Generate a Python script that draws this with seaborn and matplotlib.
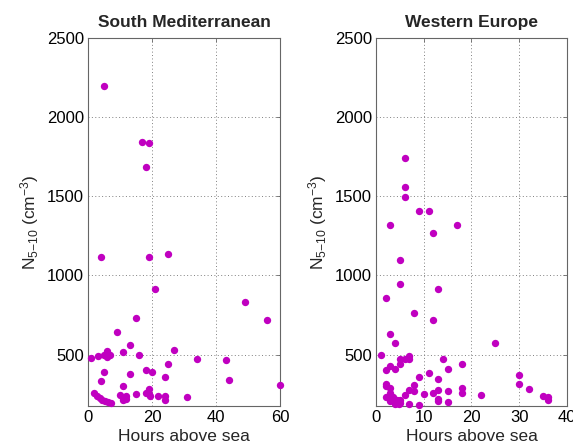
import numpy as np
import pandas as pd
import matplotlib
matplotlib.use("Agg")
import matplotlib.pyplot as plt
import seaborn as sns

# South Mediterranean: hours above sea vs N5-10
sm_hours = [5, 17, 19, 18,
            4, 19, 25, 21, 49, 56, 15, 9, 13, 11, 27, 6, 1, 3,
            5, 6, 7, 6, 16, 34, 43, 25, 5, 18, 20, 13, 24, 4, 44, 60,
            11, 19, 2, 2.7, 3.6, 4.4, 5.3, 6.3, 7.1, 10, 11, 12, 11, 11.8,
            15, 18, 19, 19.5, 22, 24, 24, 31]
sm_n = [2195, 1845, 1835, 1685,
        1115, 1115, 1135, 915, 835, 720, 730, 640, 560, 515, 530, 525, 480, 490,
        495, 505, 500, 485, 500, 475, 465, 440, 390, 400, 390, 380, 360, 330, 340, 305,
        300, 285, 255, 240, 225, 215, 208, 200, 192, 245, 225, 240, 210, 222,
        250, 255, 250, 240, 240, 240, 215, 235]

# Western Europe
we_hours = [6, 6, 6, 9, 11, 3, 17,
            12, 5, 5, 13, 2, 8, 12, 3, 4, 25, 1,
            5, 6, 7, 7, 14, 5, 3, 4, 2, 18, 15, 11, 30, 9, 13, 30,
            2, 2, 3, 8, 18, 18, 32, 7, 8, 13, 15, 12, 10, 22,
            35, 36, 36, 2, 3, 6, 3, 4, 4.5, 5, 5, 4, 4.8,
            13, 13, 15, 7, 9, 3.5]
we_n = [1745, 1560, 1495, 1405, 1410, 1320, 1320,
        1265, 1095, 945, 915, 855, 760, 720, 630, 575, 570, 495,
        475, 475, 490, 470, 475, 440, 430, 410, 405, 440, 410, 385, 370, 360, 345, 315,
        315, 300, 290, 305, 290, 260, 280, 275, 270, 275, 270, 255, 250, 245,
        240, 230, 210, 230, 260, 245, 205, 200, 210, 215, 195, 190, 190,
        220, 205, 200, 190, 180, 235]

sm = pd.DataFrame({"hours": sm_hours, "n": sm_n})
we = pd.DataFrame({"hours": we_hours, "n": we_n})

sns.set_style("white")
plt.rcParams["font.family"] = ["Liberation Sans", "DejaVu Sans"]
plt.rcParams["mathtext.fontset"] = "custom"
plt.rcParams["mathtext.rm"] = "Liberation Sans"
plt.rcParams["mathtext.it"] = "Liberation Sans:italic"

fig = plt.figure(figsize=(5.73, 4.45), dpi=100)
ax1 = fig.add_axes([0.1536, 0.0876, 0.3351, 0.827])
ax2 = fig.add_axes([0.6562, 0.0876, 0.3333, 0.827])

color = "#c000c0"
panels = [(ax1, sm, "South Mediterranean", 60, [0, 20, 40, 60]),
          (ax2, we, "Western Europe", 40, [0, 10, 20, 30, 40])]

for ax, df, title, xmax, xt in panels:
    sns.scatterplot(data=df, x="hours", y="n", ax=ax, color=color, s=28,
                    edgecolor=color, linewidth=0, zorder=3, clip_on=False)
    ax.set_xlim(0, xmax)
    ax.set_ylim(175, 2500)
    ax.set_xticks(xt)
    ax.set_yticks([500, 1000, 1500, 2000, 2500])
    ax.grid(True, linestyle=(0, (1, 2.5)), color="#808080", linewidth=0.7)
    for sp in ax.spines.values():
        sp.set_visible(True)
        sp.set_color("#666666")
        sp.set_linewidth(0.8)
    ax.tick_params(direction="in", length=3, width=0.6, top=True, right=True,
                   labelsize=12, colors="#666666", labelcolor="black", pad=3)
    ax.set_xlabel("Hours above sea", fontsize=12.5, labelpad=3)
    ax.set_ylabel(r"N$_{5\mathrm{-}10}$ (cm$^{-3}$)", fontsize=12.5, labelpad=4)
    ax.set_title(title, fontsize=12.5, fontweight="bold", pad=8)

fig.savefig("out.png", dpi=100)
